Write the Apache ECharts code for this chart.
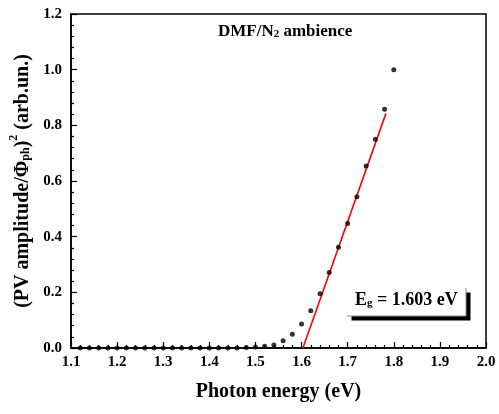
<!DOCTYPE html>
<html>
<head>
<meta charset="utf-8">
<script src="https://cdn.jsdelivr.net/npm/echarts@6/dist/echarts.min.js"></script>
<style>html,body{margin:0;padding:0;background:#fff;}#chart{width:499px;height:414px;}</style>
</head>
<body>
<div id="chart"></div>
<script>
// Data
var energy = [1.12,1.14,1.16,1.18,1.20,1.22,1.24,1.26,1.28,1.30,1.32,1.34,1.36,1.38,1.40,1.42,1.44,1.46,1.48,1.50,1.52,1.54,1.56,1.58,1.60,1.62,1.64,1.66,1.68,1.70,1.72,1.74,1.76,1.78,1.80];
var pvSquared = [0,0,0,0,0,0,0,0,0,0,0,0,0,0,0,0,0,0,0.002,0.004,0.006,0.011,0.026,0.049,0.086,0.134,0.195,0.271,0.362,0.447,0.543,0.654,0.750,0.858,1.000];
var fitX = [1.603, 1.783];
var fitY = [0, 0.843];
var xTicks = ['1.1','1.2','1.3','1.4','1.5','1.6','1.7','1.8','1.9','2.0'];
var yTicks = ['0.0','0.2','0.4','0.6','0.8','1.0','1.2'];

var serif = '"Liberation Serif","Times New Roman",serif';
var chart = echarts.init(document.getElementById('chart'), null, {renderer:'canvas'});
var scatterData = energy.map(function(e,i){return [e,pvSquared[i]];});
var fitData = fitX.map(function(e,i){return [e,fitY[i]];});

chart.setOption({
  backgroundColor:'#fff',
  animation:false,
  grid:{left:71,right:13,top:14,bottom:66,show:true,borderColor:'#000',borderWidth:1.5,backgroundColor:'transparent'},
  xAxis:{
    type:'value',min:1.1,max:2.0,interval:0.1,
    name:'Photon energy (eV)',nameLocation:'middle',nameGap:34,
    nameTextStyle:{fontFamily:serif,fontWeight:'bold',fontSize:20,color:'#000'},
    axisLine:{show:true,lineStyle:{color:'#000',width:1.5}},
    axisTick:{show:true,inside:true,length:6,lineStyle:{color:'#000',width:1.2}},
    minorTick:{show:true,splitNumber:5,length:3,lineStyle:{color:'#000',width:1.2}},
    splitLine:{show:false},
    axisLabel:{margin:7,fontFamily:serif,fontWeight:'bold',fontSize:15,color:'#000',
      formatter:function(v){var s=(Math.round(v*10)/10).toFixed(1);return xTicks.indexOf(s)>=0?s:'';}}
  },
  yAxis:{
    type:'value',min:0,max:1.2,interval:0.2,
    name:'{n|(PV amplitude/Φ}{sub|ph}{n|)}{sup|2}{n| (arb.un.)}',
    nameLocation:'middle',nameGap:38,nameRotate:90,
    nameTextStyle:{fontFamily:serif,fontWeight:'bold',fontSize:20,color:'#000',
      rich:{
        n:{fontFamily:serif,fontWeight:'bold',fontSize:20,color:'#000',lineHeight:24,verticalAlign:'bottom'},
        sub:{fontFamily:serif,fontWeight:'bold',fontSize:12,color:'#000',lineHeight:24,verticalAlign:'bottom',padding:[7,0,0,0]},
        sup:{fontFamily:serif,fontWeight:'bold',fontSize:12,color:'#000',lineHeight:24,verticalAlign:'top',padding:[0,0,7,0]}
      }},
    axisLine:{show:true,lineStyle:{color:'#000',width:1.5}},
    axisTick:{show:true,inside:true,length:6,lineStyle:{color:'#000',width:1.2}},
    minorTick:{show:true,splitNumber:5,length:3,lineStyle:{color:'#000',width:1.2}},
    splitLine:{show:false},
    axisLabel:{margin:9,fontFamily:serif,fontWeight:'bold',fontSize:15,color:'#000',
      formatter:function(v){var s=(Math.round(v*10)/10).toFixed(1);return yTicks.indexOf(s)>=0?s:'';}}
  },
  series:[
    {type:'line',data:fitData,showSymbol:false,symbol:'none',lineStyle:{color:'#ff0000',width:1.6},z:2},
    {type:'scatter',data:scatterData,symbol:'circle',symbolSize:5,itemStyle:{color:'#000'},z:3}
  ],
  graphic:[
    {type:'text',left:218,top:23,style:{
      text:'{t|DMF/N}{s|2}{t| ambience}',
      rich:{
        t:{fontFamily:serif,fontWeight:'bold',fontSize:17,fill:'#000',lineHeight:19,verticalAlign:'bottom'},
        s:{fontFamily:serif,fontWeight:'bold',fontSize:11,fill:'#000',lineHeight:19,verticalAlign:'bottom',padding:[5,0,0,0]}
      }}},
    {type:'rect',shape:{x:347,y:288,width:119,height:28},
      style:{fill:'#fff',shadowColor:'#000',shadowBlur:0,shadowOffsetX:4.5,shadowOffsetY:4.5},z:10},
    {type:'polyline',shape:{points:[[347,316],[466,316],[466,288]]},style:{stroke:'#888',lineWidth:1,fill:null},z:11},
    {type:'text',left:355,top:291,z:12,style:{
      text:'{t|E}{s|g}{t| = 1.603 eV}',
      rich:{
        t:{fontFamily:serif,fontWeight:'bold',fontSize:18,fill:'#000',lineHeight:21,verticalAlign:'bottom'},
        s:{fontFamily:serif,fontWeight:'bold',fontSize:11,fill:'#000',lineHeight:21,verticalAlign:'bottom',padding:[6,0,0,0]}
      }}}
  ]
});
</script>
</body>
</html>
